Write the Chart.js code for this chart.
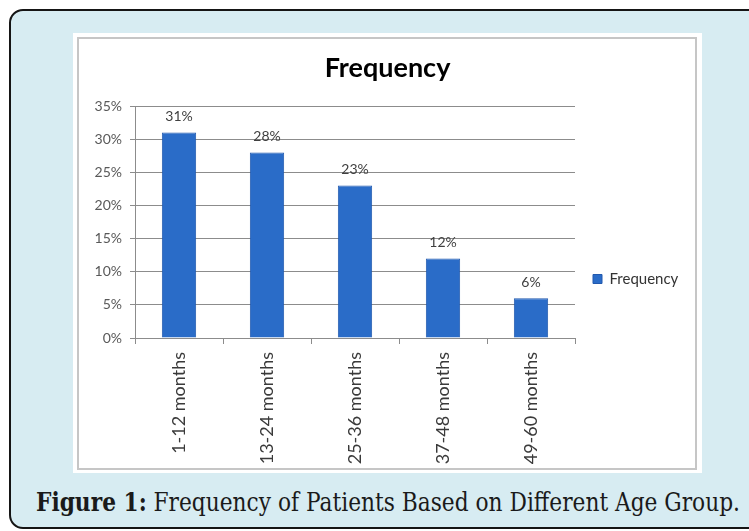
<!DOCTYPE html>
<html><head><meta charset="utf-8">
<script src="https://cdn.jsdelivr.net/npm/chart.js@4.4.1/dist/chart.umd.min.js"></script>
<style>
html,body{margin:0;padding:0;background:#fff;width:749px;height:531px;overflow:hidden;position:relative}
#frame{position:absolute;left:9px;top:9px;width:780px;height:516px;border:2px solid #151515;border-radius:14px;background:#d7ecf2;}
#white{position:absolute;left:73px;top:33px;width:629px;height:440px;background:#fff;}
#inner{position:absolute;left:77px;top:37px;width:616px;height:429px;border:2px solid #c6c6c6;}
#wrap{position:absolute;left:73px;top:33px;width:629px;height:440px;}
#caption{position:absolute;left:36px;top:489px;white-space:nowrap;font-family:'DejaVu Serif';font-stretch:condensed;font-size:26px;line-height:1;color:#1a1a1a;transform-origin:0 0}
</style></head><body>
<div id="frame"></div><div id="white"></div><div id="inner"></div>
<div id="wrap"><canvas id="c"></canvas></div>
<div id="caption"><b>Figure 1:</b> Frequency of Patients Based on Different Age Group.</div>
<script>
const categories = ['1-12 months', '13-24 months', '25-36 months', '37-48 months', '49-60 months'];
const frequency = [31, 28, 23, 12, 6];
const yTickValues = [0, 5, 10, 15, 20, 25, 30, 35];
const seriesName = 'Frequency';
const chartTitle = 'Frequency';

const LEGEND_PAD = 32;

const barLabels = {
  id: 'barLabels',
  afterDatasetsDraw(chart) {
    const ctx = chart.ctx;
    const meta = chart.getDatasetMeta(0);
    ctx.save();
    ctx.font = '14px Lato';
    ctx.fillStyle = '#404040';
    ctx.textAlign = 'center';
    ctx.textBaseline = 'middle';
    meta.data.forEach((bar, i) => {
      ctx.fillText(frequency[i] + '%', bar.x, bar.y - 16);
    });
    ctx.restore();
  }
};

const legendPlace = {
  id: 'legendPlace',
  afterLayout(chart) {
    const l = chart.legend;
    if (!l) return;
    const w = l.width, h = l.height;
    l.left = 520 - LEGEND_PAD; l.right = l.left + w;
    l.top = 238.5 - LEGEND_PAD; l.bottom = l.top + h;
  }
};

function build() {
  Chart.defaults.font.family = 'Lato';
  new Chart(document.getElementById('c'), {
    type: 'bar',
    data: {
      labels: categories,
      datasets: [{
        label: seriesName,
        data: frequency,
        backgroundColor: '#2a6cc8',
        borderColor: '#2259ae',
        borderWidth: 1,
        categoryPercentage: 0.78,
        barPercentage: 0.5
      }]
    },
    options: {
      responsive: true,
      maintainAspectRatio: false,
      animation: false,
      layout: { padding: 0 },
      plugins: {
        title: {
          display: true, text: chartTitle, color: '#000',
          font: { size: 27, weight: 'bold', family: 'Lato' },
          padding: { top: 19, bottom: 21.6 }
        },
        legend: {
          display: true, position: 'right', align: 'start', maxWidth: 127,
          labels: { boxWidth: 9, boxHeight: 9, padding: LEGEND_PAD, color: '#333', font: { size: 15 } }
        },
        tooltip: { enabled: false }
      },
      scales: {
        x: {
          grid: { drawOnChartArea: false, drawTicks: true, tickLength: 6, color: '#8c8c8c' },
          border: { color: '#8c8c8c' },
          ticks: { minRotation: 90, maxRotation: 90, padding: 8, color: '#3a3a3a', font: { size: 18 } },
          afterFit(s) { s.height = 135; }
        },
        y: {
          min: 0, max: 35,
          afterBuildTicks(s) { s.ticks = yTickValues.map(v => ({ value: v })); },
          grid: { color: '#8c8c8c', tickLength: 5 },
          border: { color: '#8c8c8c' },
          ticks: { padding: 8, color: '#595959', font: { size: 14 }, callback: v => v + '%' },
          afterFit(s) { s.width = 62; }
        }
      }
    },
    plugins: [barLabels, legendPlace]
  });
  const cap = document.getElementById('caption');
  const w = cap.getBoundingClientRect().width;
  cap.style.transform = 'scaleX(' + (704 / w) + ')';
}

Promise.all([
  document.fonts.load('14px Lato'),
  document.fonts.load('bold 27px Lato'),
  document.fonts.load('26px "DejaVu Serif"'),
  document.fonts.load('bold 26px "DejaVu Serif"')
]).then(build, build);
</script>
</body></html>
